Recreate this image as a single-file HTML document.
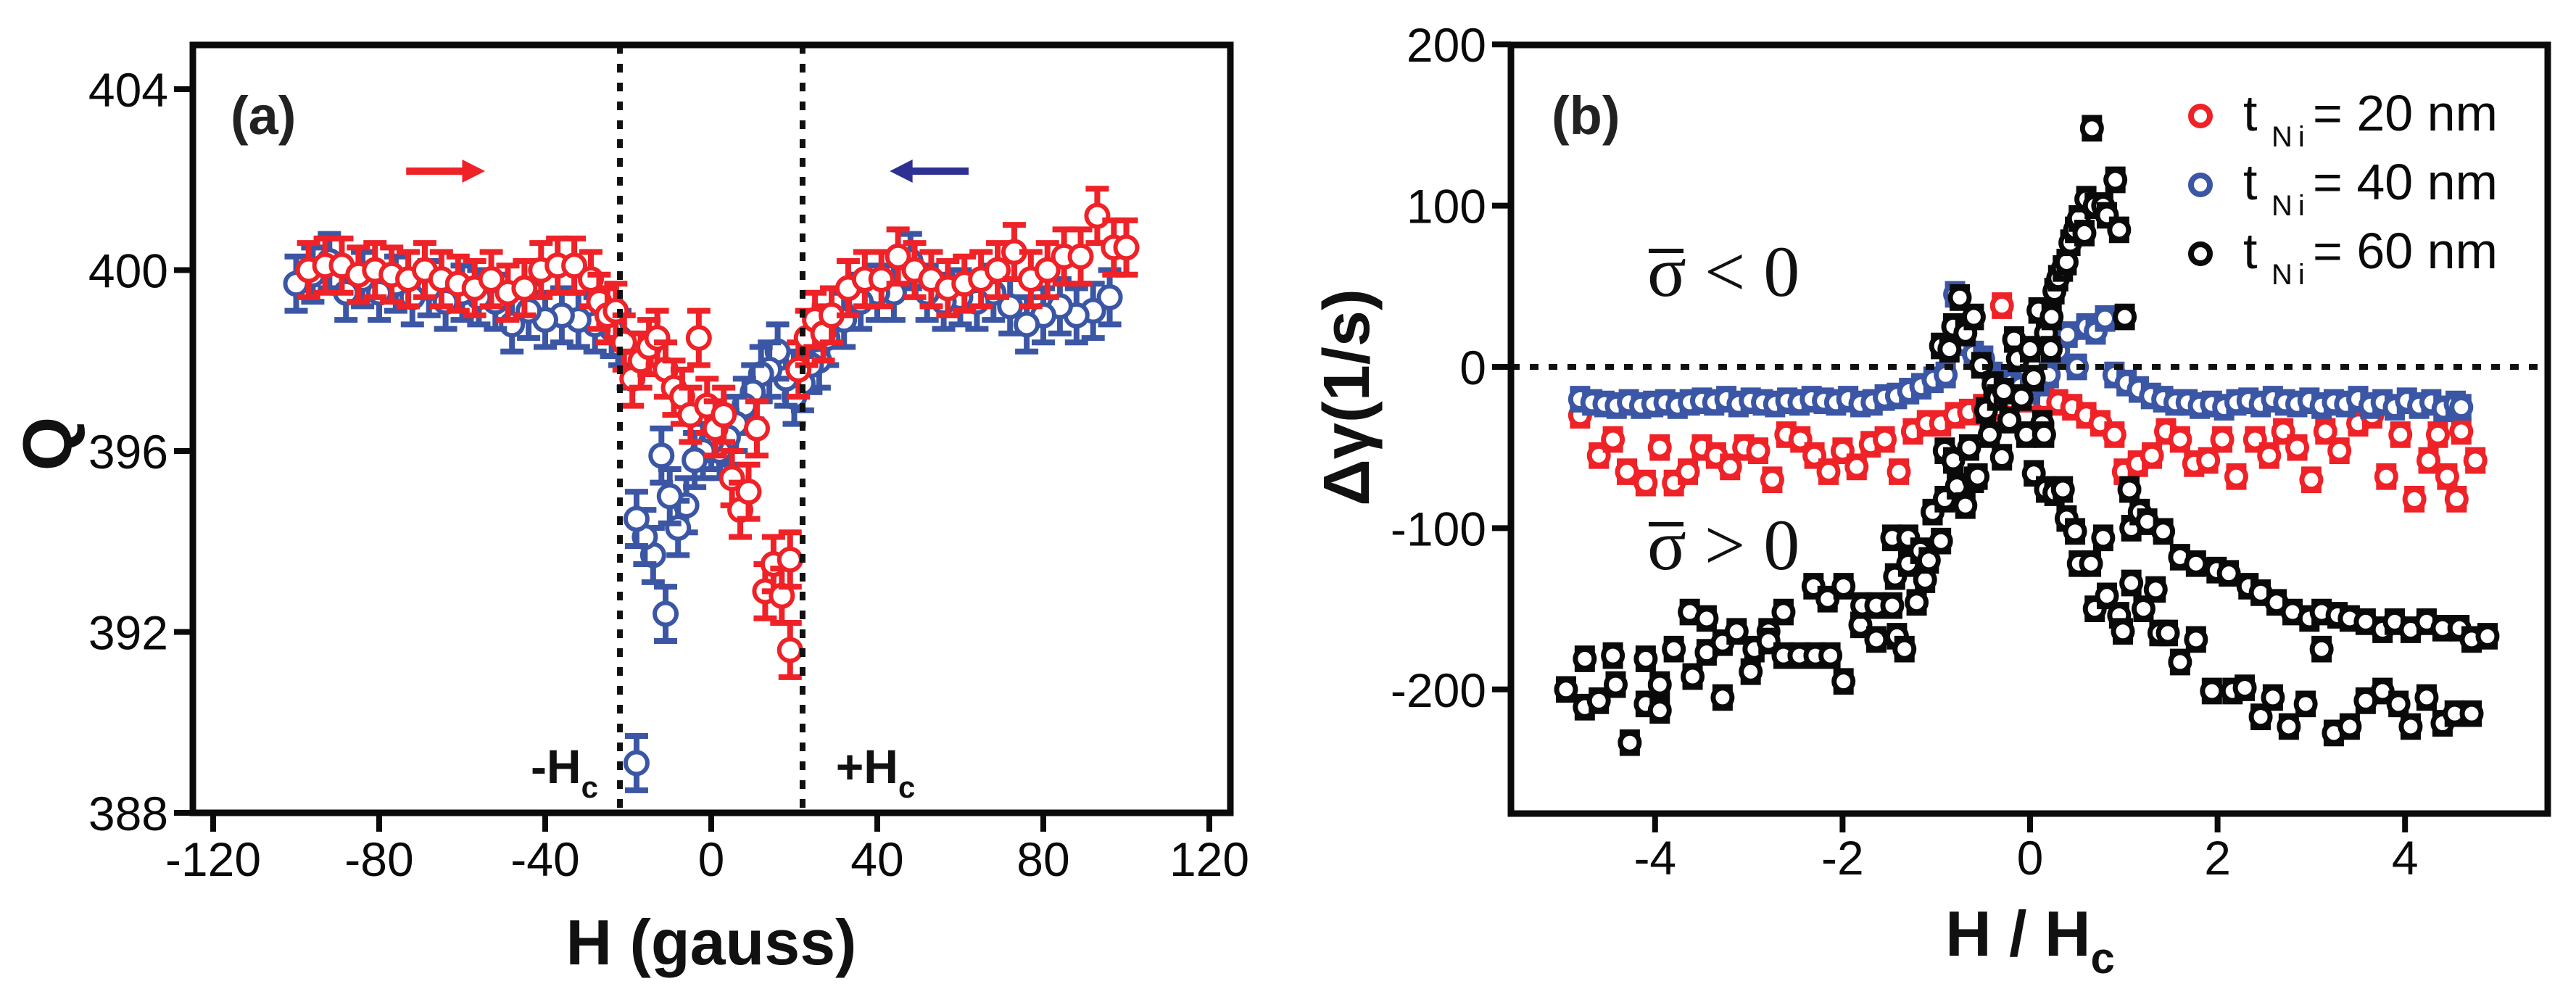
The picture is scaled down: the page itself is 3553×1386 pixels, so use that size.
<!DOCTYPE html>
<html><head><meta charset="utf-8"><style>
html,body{margin:0;padding:0;background:#fff;}
svg{display:block;font-family:"Liberation Sans",Arial,sans-serif;}
</style></head><body>
<svg id="fig" width="3553" height="1386" viewBox="0 0 3553 1386" xmlns="http://www.w3.org/2000/svg">
<g id="pa"></g>
<g id="pb"></g>
</svg>
<script>
// ---------- Panel (a) data ----------
const aXTicks = [-120,-80,-40,0,40,80,120];
const aYTicks = [388,392,396,400,404];
const aRedH = [-97,-93,-89,-85,-81,-77,-73,-69,-65,-61,-57,-53,-49,-45,-41,-37,-33,-29,-27,-25,-23,-21,-19,-17,-15,-13,-11,-9,-7,-5,-3,-1,1,3,5,7,9,11,13,15,17,19,19,21,23,25,27,29,33,37,41,45,49,53,57,61,65,69,73,77,81,85,89,93,97,100];
const aRedQ = [400.0,400.1,400.1,399.9,400.0,399.9,399.8,400.0,399.8,399.7,399.6,399.8,399.5,399.6,400.0,400.1,400.1,399.8,399.3,399.0,399.1,398.4,397.6,398.0,398.3,398.5,397.8,397.4,397.2,396.8,398.5,397.0,396.5,396.8,395.4,394.7,395.1,396.5,392.9,393.5,392.8,393.6,391.6,397.8,398.5,398.9,398.6,399.0,399.6,399.8,399.8,400.3,400.0,399.8,399.6,399.7,399.8,400.0,400.4,399.8,400.0,400.3,400.3,401.2,400.5,400.5];
const aBlueH = [96,92,88,84,80,76,72,68,64,60,56,52,48,44,40,36,32,28,26,24,22,20,18,16,14,12,10,8,6,4,2,0,-2,-4,-6,-8,-10,-11,-12,-14,-16,-18,-18,-20,-22,-24,-28,-32,-36,-40,-44,-48,-52,-56,-60,-64,-68,-72,-76,-80,-84,-88,-92,-96,-100];
const aBlueQ = [399.4,399.1,399.0,399.2,399.0,398.8,399.2,399.5,399.3,399.4,399.3,399.5,400.2,399.5,399.5,399.3,398.9,398.5,398.0,397.9,397.5,397.2,397.6,398.2,397.8,397.7,397.3,397.0,396.6,396.3,396.0,396.2,396.0,395.8,394.8,394.3,395.0,392.4,395.9,393.7,394.1,394.5,389.1,398.0,398.5,398.7,398.8,398.9,399.0,398.9,399.1,398.8,399.3,399.4,399.5,399.3,399.6,399.4,399.7,399.5,399.8,399.5,400.2,399.9,399.7];
const aErr = 0.6;

// ---------- Panel (b) data ----------
const bXTicks = [-4,-2,0,2,4];
const bYTicks = [-200,-100,0,100,200];
const bRedH = [-4.8,-4.6,-4.45,-4.3,-4.1,-3.95,-3.8,-3.65,-3.5,-3.35,-3.2,-3.05,-2.9,-2.75,-2.6,-2.45,-2.3,-2.15,-2,-1.85,-1.7,-1.55,-1.4,-1.25,-1.1,-0.95,-0.8,-0.65,-0.5,-0.35,-0.3,-0.2,0,0.15,0.3,0.45,0.6,0.75,0.9,1.0,1.15,1.3,1.45,1.6,1.75,1.9,2.05,2.2,2.4,2.55,2.7,2.85,3.0,3.15,3.3,3.5,3.65,3.8,3.95,4.1,4.25,4.35,4.45,4.55,4.6,4.75];
const bRedV = [-30,-55,-45,-65,-72,-50,-72,-65,-50,-55,-62,-50,-52,-70,-42,-45,-55,-65,-52,-62,-48,-45,-65,-40,-35,-35,-30,-28,-25,-25,38,-20,-20,-20,-22,-25,-30,-35,-42,-65,-60,-55,-40,-45,-60,-58,-45,-68,-45,-55,-40,-50,-70,-40,-52,-35,-30,-68,-42,-82,-58,-42,-68,-82,-40,-58];
const bBlueH = [-4.8,-4.67,-4.54,-4.41,-4.28,-4.15,-4.02,-3.89,-3.76,-3.63,-3.5,-3.37,-3.24,-3.11,-2.98,-2.85,-2.72,-2.59,-2.46,-2.33,-2.2,-2.07,-1.94,-1.81,-1.68,-1.55,-1.42,-1.29,-1.16,-1.03,-0.9,-0.8,-0.7,-0.6,-0.5,-0.4,-0.3,-0.2,-0.1,0,0.1,0.2,0.3,0.4,0.5,0.6,0.7,0.8,0.9,1.03,1.16,1.29,1.42,1.55,1.68,1.81,1.94,2.07,2.2,2.33,2.46,2.59,2.72,2.85,2.98,3.11,3.24,3.37,3.5,3.63,3.76,3.89,4.02,4.15,4.28,4.41,4.54,4.6];
const bBlueV = [-20,-22,-23,-24,-22,-24,-23,-22,-24,-22,-21,-22,-20,-23,-21,-22,-23,-21,-22,-20,-21,-22,-20,-23,-22,-19,-18,-15,-12,-8,-5,45,15,8,5,-5,-8,-10,-12,-15,-10,-5,10,20,0,25,22,30,-5,-10,-14,-18,-20,-22,-22,-24,-23,-25,-22,-21,-23,-20,-22,-23,-21,-24,-22,-23,-20,-24,-22,-25,-21,-24,-22,-26,-23,-25];
const bBlackH = [-4.95,-4.75,-4.75,-4.6,-4.45,-4.42,-4.27,-4.1,-4.1,-3.95,-3.95,-3.8,-3.63,-3.6,-3.45,-3.45,-3.28,-3.28,-3.13,-2.98,-2.94,-2.79,-2.79,-2.63,-2.63,-2.46,-2.31,-2.29,-2.16,-2.13,-1.99,-1.99,-1.81,-1.79,-1.64,-1.64,-1.47,-1.44,-1.42,-1.34,-1.47,-1.3,-1.3,-1.21,-1.17,-1.12,-1.08,-1.04,-0.95,-0.91,-0.91,-0.82,-0.78,-0.69,-0.65,-0.6,-0.56,-0.95,-0.86,-0.82,-0.75,-0.69,-0.6,-0.52,-0.47,-0.43,-0.39,-0.35,-0.3,-0.28,-0.22,-0.17,-0.13,-0.09,-0.04,0,0.04,0.09,0.13,0.15,0.17,0.22,0.23,0.26,0.3,0.35,0.39,0.43,0.48,0.52,0.58,0.6,0.66,0.69,0.78,0.82,0.91,0.95,1.01,0.04,0.17,0.26,0.35,0.39,0.48,0.52,0.65,0.69,0.78,0.82,0.95,0.99,1.08,1.08,1.06,1.17,1.25,1.21,1.34,1.38,1.42,1.47,1.6,1.6,1.77,1.77,1.94,1.99,2.12,2.16,2.29,2.33,2.46,2.46,2.59,2.63,2.76,2.8,2.94,2.98,3.11,3.11,3.24,3.28,3.41,3.41,3.58,3.58,3.76,3.76,3.93,3.89,4.06,4.06,4.23,4.23,4.4,4.4,4.53,4.58,4.71,4.71,4.88];
const bBlackV = [-200,-181,-211,-207,-179,-197,-233,-181,-209,-197,-213,-175,-152,-192,-156,-177,-205,-171,-164,-189,-175,-164,-170,-152,-179,-179,-136,-179,-144,-179,-136,-195,-160,-148,-169,-148,-148,-130,-167,-175,-106,-106,-122,-146,-114,-132,-120,-90,-108,-82,-52,-58,-74,-86,-50,-70,-68,13,11,25,43,21,31,1,-27,-42,-11,-19,-56,-15,-33,17,5,-19,-42,11,-7,35,-35,-42,21,11,31,47,55,61,65,77,85,92,83,104,148,100,100,94,116,85,31,-66,-76,-78,-76,-94,-102,-122,-122,-150,-106,-142,-154,-164,-134,-100,-76,-90,-96,-150,-138,-165,-102,-165,-183,-118,-122,-169,-201,-126,-128,-201,-199,-136,-217,-140,-205,-146,-223,-152,-209,-156,-175,-152,-227,-154,-223,-156,-207,-158,-201,-163,-209,-158,-223,-163,-205,-158,-221,-162,-215,-162,-215,-169,-167];
const bErr = 6;

const NS = "http://www.w3.org/2000/svg";
function mk(parent, tag, attrs, text){
  const e = document.createElementNS(NS, tag);
  for (const k in attrs) e.setAttribute(k, attrs[k]);
  if (text !== undefined) e.textContent = text;
  parent.appendChild(e);
  return e;
}

// ---------- Panel (a) ----------
const pa = document.getElementById('pa');
const aL=266, aR=1697, aT=62, aB=1121;
const ax = h => 981 + 5.725*h;
const ay = q => 123 + (404 - q)*62.375;

function errPoint(g, x, y, yLo, yHi, r, sw, capW, ebw, color, name){
  const grp = mk(g, 'g', {});
  
  
  mk(grp,'line',{x1:x,y1:yLo,x2:x,y2:yHi,stroke:color,'stroke-width':ebw});
  mk(grp,'line',{x1:x-capW/2,y1:yLo,x2:x+capW/2,y2:yLo,stroke:color,'stroke-width':ebw});
  mk(grp,'line',{x1:x-capW/2,y1:yHi,x2:x+capW/2,y2:yHi,stroke:color,'stroke-width':ebw});
  mk(grp,'circle',{cx:x,cy:y,r:r,fill:'#fff',stroke:color,'stroke-width':sw});
}

const aBlueG = mk(pa,'g',{});


for (let i=0;i<aBlueH.length;i++){
  errPoint(aBlueG, ax(aBlueH[i]), ay(aBlueQ[i]), ay(aBlueQ[i]-aErr), ay(aBlueQ[i]+aErr), 15, 6, 32, 8, '#3b56a4', 'blue-point');
}
const aRedG = mk(pa,'g',{});


for (let i=0;i<aRedH.length;i++){
  errPoint(aRedG, ax(aRedH[i]), ay(aRedQ[i]), ay(aRedQ[i]-aErr), ay(aRedQ[i]+aErr), 15, 6, 32, 8, '#ee2227', 'red-point');
}
[-22,22].forEach(h=>{
  const l = mk(pa,'line',{x1:ax(h),y1:aT,x2:ax(h),y2:aB,stroke:'#111','stroke-width':8,'stroke-dasharray':'12 14'});
  
  
});
const aF = mk(pa,'rect',{x:aL,y:aT,width:aR-aL,height:aB-aT,fill:'none',stroke:'#0a0a0a','stroke-width':9});


aXTicks.forEach(t=>{
  mk(pa,'line',{x1:ax(t),y1:aB,x2:ax(t),y2:aB+26,stroke:'#0a0a0a','stroke-width':8});
  const tx = mk(pa,'text',{x:ax(t),y:1208,'font-size':66,'text-anchor':'middle',fill:'#0a0a0a'}, String(t));
  
  
});
aYTicks.forEach(t=>{
  mk(pa,'line',{x1:aL-26,y1:ay(t),x2:aL,y2:ay(t),stroke:'#0a0a0a','stroke-width':8});
  const tx = mk(pa,'text',{x:232,y:ay(t)+24,'font-size':66,'text-anchor':'end',fill:'#0a0a0a'}, String(t));
  
  
});
let t;
t = mk(pa,'text',{x:981,y:1330,'font-size':88,'font-weight':'bold','text-anchor':'middle',fill:'#111'},'H (gauss)');
 
t = mk(pa,'text',{x:0,y:0,'font-size':96,'font-weight':'bold','text-anchor':'middle',fill:'#111',transform:'translate(98,612) rotate(-90)'},'Q');
 
t = mk(pa,'text',{x:318,y:185,'font-size':74,'font-weight':'bold',fill:'#222'},'(a)');
 
let ar = mk(pa,'g',{});  
mk(ar,'line',{x1:ax(-73.5),y1:236,x2:ax(-58),y2:236,stroke:'#ee2227','stroke-width':10});
mk(ar,'polygon',{points:`${ax(-54.5)},236 ${ax(-60)},220 ${ax(-60)},252`,fill:'#ee2227'});
ar = mk(pa,'g',{});  
mk(ar,'line',{x1:ax(62),y1:236,x2:ax(47),y2:236,stroke:'#2e3192','stroke-width':10});
mk(ar,'polygon',{points:`${ax(43)},236 ${ax(48.5)},220 ${ax(48.5)},252`,fill:'#2e3192'});
t = mk(pa,'text',{x:ax(-43.5),y:1080,'font-size':66,'font-weight':'bold',fill:'#111'});
 
t.innerHTML = '-H<tspan font-size="42" dy="20">c</tspan>';
t = mk(pa,'text',{x:ax(30),y:1080,'font-size':66,'font-weight':'bold',fill:'#111'});
 
t.innerHTML = '+H<tspan font-size="42" dy="20">c</tspan>';

// ---------- Panel (b) ----------
const pb = document.getElementById('pb');
const bL=2084, bR=3514, bT=62, bB=1122;
const bx = h => 2800 + 129.3*h;
const by = v => 506 - 2.224*v;

const series = [[bRedH,bRedV,'#ee2227','series-20nm'],[bBlueH,bBlueV,'#3b56a4','series-40nm'],[bBlackH,bBlackV,'#0a0a0a','series-60nm']];
series.forEach(s=>{
  const g = mk(pb,'g',{});
  
  
  for (let i=0;i<s[0].length;i++){
    errPoint(g, bx(s[0][i]), by(s[1][i]), by(s[1][i]-bErr), by(s[1][i]+bErr), 13, 7, 28, 10, s[2], 'point');
  }
});
t = mk(pb,'line',{x1:bL,y1:by(0),x2:bR,y2:by(0),stroke:'#111','stroke-width':8,'stroke-dasharray':'12 14'});
 
const bF = mk(pb,'rect',{x:bL,y:bT,width:bR-bL,height:bB-bT,fill:'none',stroke:'#0a0a0a','stroke-width':9});


bXTicks.forEach(v=>{
  mk(pb,'line',{x1:bx(v),y1:bB,x2:bx(v),y2:bB+26,stroke:'#0a0a0a','stroke-width':8});
  const tx = mk(pb,'text',{x:bx(v),y:1206,'font-size':66,'text-anchor':'middle',fill:'#0a0a0a'}, String(v));
  
  
});
bYTicks.forEach(v=>{
  mk(pb,'line',{x1:bL-26,y1:by(v),x2:bL,y2:by(v),stroke:'#0a0a0a','stroke-width':8});
  const tx = mk(pb,'text',{x:2050,y:by(v)+24,'font-size':66,'text-anchor':'end',fill:'#0a0a0a'}, String(v));
  
  
});
t = mk(pb,'text',{x:2800,y:1318,'font-size':88,'font-weight':'bold','text-anchor':'middle',fill:'#111'});
 
t.innerHTML = 'H / H<tspan font-size="60" dy="24">c</tspan>';
t = mk(pb,'text',{x:0,y:0,'font-size':90,'font-weight':'bold','text-anchor':'middle',fill:'#111',transform:'translate(1888,548) rotate(-90)'},'Δγ(1/s)');
 
t = mk(pb,'text',{x:2140,y:185,'font-size':74,'font-weight':'bold',fill:'#222'},'(b)');
 
[[408,'σ < 0','sigma-negative-label'],[785,'σ > 0','sigma-positive-label']].forEach(s=>{
  const g = mk(pb,'g',{});
  
  
  mk(g,'text',{x:2272,y:s[0],'font-size':100,'font-family':'Liberation Serif, serif',fill:'#111'},s[1]);
  mk(g,'line',{x1:2274,y1:s[0]-62,x2:2322,y2:s[0]-62,stroke:'#111','stroke-width':6});
});
const legLabels = ['20','40','60'];
const legColors = ['#ee2227','#3b56a4','#0a0a0a'];
legLabels.forEach((lab,i)=>{
  const g = mk(pb,'g',{});
  
  
  const yb = 180 + 95*i;
  mk(g,'circle',{cx:3035,cy:yb-20,r:13,fill:'#fff',stroke:legColors[i],'stroke-width':8});
  mk(g,'text',{x:3094,y:yb,'font-size':70,fill:'#0a0a0a'},'t');
  mk(g,'text',{x:3133,y:yb+22,'font-size':40,'letter-spacing':'8',fill:'#0a0a0a'},'Ni');
  mk(g,'text',{x:3190,y:yb,'font-size':70,fill:'#0a0a0a'},'= '+lab+' nm');
});
</script>
</body></html>
